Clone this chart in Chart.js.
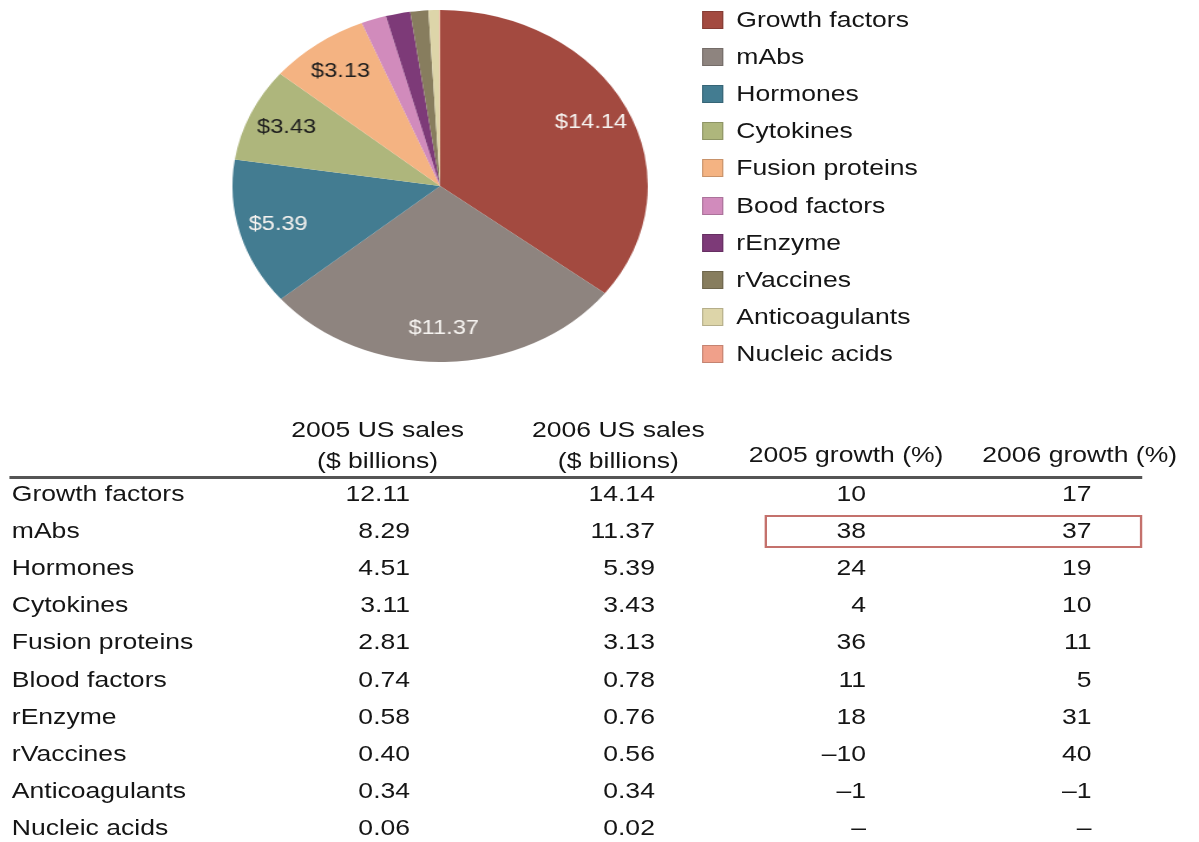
<!DOCTYPE html>
<html>
<head>
<meta charset="utf-8">
<script src="https://cdn.jsdelivr.net/npm/chart.js@4.4.1/dist/chart.umd.min.js"></script>
<style>
  html, body { margin: 0; padding: 0; background: #fff; }
  body { width: 1199px; height: 842px; overflow: hidden; }
  #stage {
    position: absolute; left: 0; top: 0; width: 1016px; height: 842px;
    transform: scaleX(1.18); transform-origin: 0 0;
    font-family: "Liberation Sans", Arial, Helvetica, sans-serif;
    font-size: 22.5px; color: #151515;
  }
  #pieWrap { position: absolute; left: 187px; top: 0; width: 372px; height: 372px; }
  .abs { position: absolute; white-space: nowrap; line-height: 30px; height: 30px; }
  .sw { position: absolute; width: 18px; height: 18px; box-sizing: border-box; border: 1px solid rgba(0,0,0,0.18); }
  .r { text-align: right; }
  .c { text-align: center; }
  #rule { position: absolute; left: 8px; width: 960px; top: 476px; height: 3px; background: #555; }
  #box { position: absolute; left: 648px; width: 320px; top: 515px; height: 33px; box-sizing: border-box; border: 2px solid #c4716c; }
</style>
</head>
<body>
<div id="stage">
  <div id="pieWrap"><canvas id="pie" width="372" height="372"></canvas></div>
  <div id="legend"></div>
  <div id="table"></div>
  <div id="rule"></div>
  <div id="box"></div>
</div>
<script>
// ---- data ----
const categories = ["Growth factors", "mAbs", "Hormones", "Cytokines", "Fusion proteins",
  "Blood factors", "rEnzyme", "rVaccines", "Anticoagulants", "Nucleic acids"];
const legendLabels = ["Growth factors", "mAbs", "Hormones", "Cytokines", "Fusion proteins",
  "Bood factors", "rEnzyme", "rVaccines", "Anticoagulants", "Nucleic acids"];
const sales2005 = [12.11, 8.29, 4.51, 3.11, 2.81, 0.74, 0.58, 0.40, 0.34, 0.06];
const sales2006 = [14.14, 11.37, 5.39, 3.43, 3.13, 0.78, 0.76, 0.56, 0.34, 0.02];
const growth2005 = [10, 38, 24, 4, 36, 11, 18, -10, -1, null];
const growth2006 = [17, 37, 19, 10, 11, 5, 31, 40, -1, null];
const headers = [["2005 US sales", "($ billions)"], ["2006 US sales", "($ billions)"], ["2005 growth (%)"], ["2006 growth (%)"]];

// ---- styles ----
const colors = ["#a34a40", "#8e847f", "#437c91", "#aeb67c", "#f4b382",
  "#d18bbc", "#7d3a78", "#877d5e", "#ddd5a9", "#f0a08a"];
const labelColors = ["#f6f3f0", "#f6f3f0", "#f6f3f0", "#1e1e1e", "#1e1e1e"];

function fmtGrowth(v) {
  if (v === null) return "–";
  return v < 0 ? "–" + Math.abs(v) : String(v);
}

// ---- legend ----
const legend = document.getElementById("legend");
legendLabels.forEach((lab, i) => {
  const cy = 20 + i * 37.1;
  const sw = document.createElement("div");
  sw.className = "sw";
  sw.style.left = "595px"; sw.style.top = (cy - 9) + "px";
  sw.style.background = colors[i];
  legend.appendChild(sw);
  const t = document.createElement("div");
  t.className = "abs";
  t.style.left = "624px"; t.style.top = (cy - 15) + "px";
  t.textContent = lab;
  legend.appendChild(t);
});

// ---- table ----
const table = document.getElementById("table");
function cell(text, x, cy, align, w) {
  const d = document.createElement("div");
  d.className = "abs " + align;
  d.style.top = (cy - 15) + "px";
  if (align === "r") { d.style.left = (x - w) + "px"; d.style.width = w + "px"; }
  else if (align === "c") { d.style.left = (x - w / 2) + "px"; d.style.width = w + "px"; }
  else { d.style.left = x + "px"; }
  d.textContent = text;
  table.appendChild(d);
}
const headCenters = [320, 524, 717, 915];
headers.forEach((h, j) => {
  if (h.length === 2) {
    cell(h[0], headCenters[j], 430, "c", 200);
    cell(h[1], headCenters[j], 461, "c", 200);
  } else {
    cell(h[0], headCenters[j], 455, "c", 200);
  }
});
categories.forEach((cat, i) => {
  const cy = 494 + i * 37.1;
  cell(cat, 10, cy, "l");
  cell(sales2005[i].toFixed(2), 347.5, cy, "r", 120);
  cell(sales2006[i].toFixed(2), 555, cy, "r", 120);
  cell(fmtGrowth(growth2005[i]), 734, cy, "r", 100);
  cell(fmtGrowth(growth2006[i]), 925, cy, "r", 100);
});

// ---- pie ----
Chart.defaults.font.family = '"Liberation Sans", Arial, sans-serif';
const sliceLabels = {
  id: "sliceLabels",
  afterDatasetsDraw(chart) {
    const ctx = chart.ctx;
    const meta = chart.getDatasetMeta(0);
    ctx.save();
    ctx.font = '20px "Liberation Sans", Arial, sans-serif';
    ctx.textAlign = "center";
    ctx.textBaseline = "middle";
    meta.data.forEach((arc, i) => {
      const v = chart.data.datasets[0].data[i];
      if (v < 3) return;
      const p = arc.getProps(["x", "y", "startAngle", "endAngle", "outerRadius"], true);
      const mid = (p.startAngle + p.endAngle) / 2;
      const r = p.outerRadius * 0.81;
      ctx.fillStyle = labelColors[i];
      ctx.fillText("$" + v.toFixed(2), p.x + r * Math.cos(mid), p.y + r * Math.sin(mid));
    });
    ctx.restore();
  }
};
new Chart(document.getElementById("pie"), {
  type: "pie",
  data: {
    labels: categories,
    datasets: [{ data: sales2006, backgroundColor: colors, borderWidth: 0 }]
  },
  options: {
    responsive: false,
    animation: false,
    layout: { padding: 10 },
    plugins: { legend: { display: false }, tooltip: { enabled: false } }
  },
  plugins: [sliceLabels]
});
</script>
</body>
</html>
